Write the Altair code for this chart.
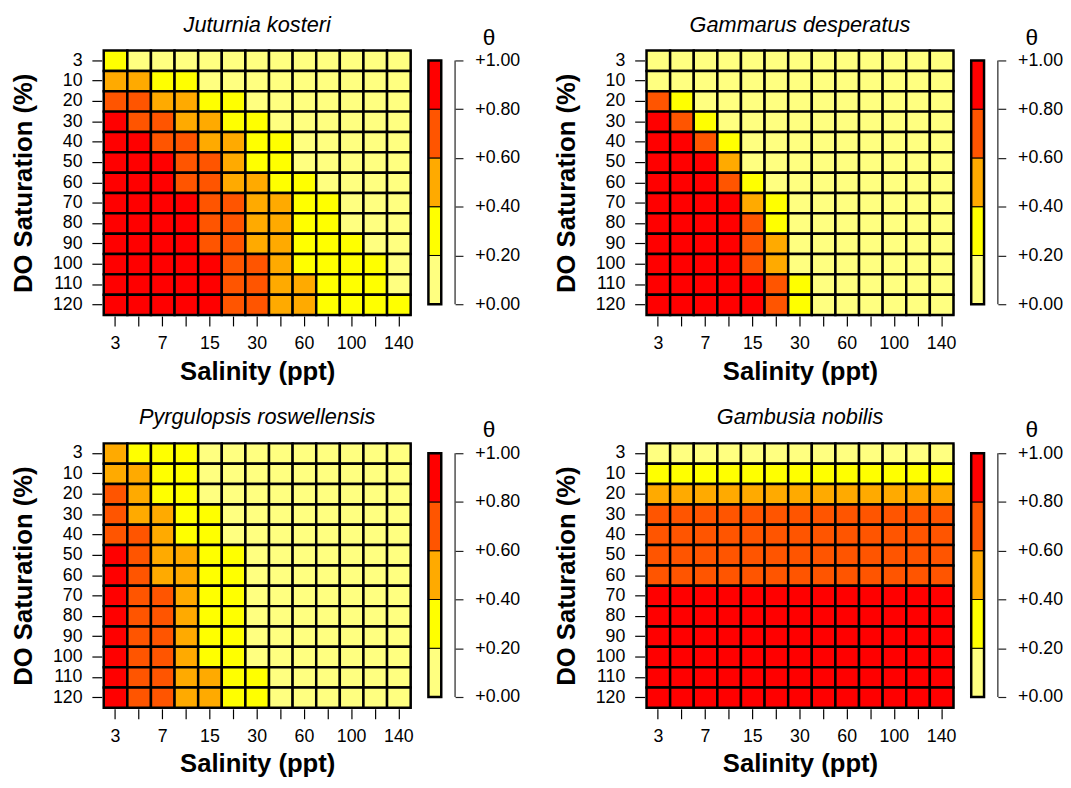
import json
import altair as alt
import pandas as pd

# ---- axes categories ----
salinity = ["3", "5", "7", "10", "15", "20", "30", "45", "60", "80", "100", "120", "140"]
do_sat = ["3", "10", "20", "30", "40", "50", "60", "70", "80", "90", "100", "110", "120"]
shown_salinity = ["3", "7", "15", "30", "60", "100", "140"]
cbar_ticks = [0.0, 0.2, 0.4, 0.6, 0.8, 1.0]

# theta class values (bin midpoints)
L, Y, A, O, R = 0.1, 0.3, 0.5, 0.7, 0.9

juturnia = [
    [Y, L, L, L, L, L, L, L, L, L, L, L, L],
    [A, A, Y, Y, L, L, L, L, L, L, L, L, L],
    [O, O, A, A, Y, Y, L, L, L, L, L, L, L],
    [R, O, O, A, A, Y, Y, L, L, L, L, L, L],
    [R, R, O, O, A, A, Y, Y, L, L, L, L, L],
    [R, R, R, O, O, A, Y, Y, L, L, L, L, L],
    [R, R, R, O, O, A, A, Y, Y, L, L, L, L],
    [R, R, R, R, O, O, A, A, Y, Y, L, L, L],
    [R, R, R, R, O, O, A, A, Y, Y, L, L, L],
    [R, R, R, R, O, O, A, A, Y, Y, Y, L, L],
    [R, R, R, R, R, O, O, A, Y, Y, Y, Y, L],
    [R, R, R, R, R, O, O, A, A, Y, Y, Y, L],
    [R, R, R, R, R, O, O, A, A, Y, Y, Y, Y],
]
gammarus = [
    [L, L, L, L, L, L, L, L, L, L, L, L, L],
    [L, L, L, L, L, L, L, L, L, L, L, L, L],
    [O, Y, L, L, L, L, L, L, L, L, L, L, L],
    [R, O, Y, L, L, L, L, L, L, L, L, L, L],
    [R, R, O, Y, L, L, L, L, L, L, L, L, L],
    [R, R, R, A, L, L, L, L, L, L, L, L, L],
    [R, R, R, O, Y, L, L, L, L, L, L, L, L],
    [R, R, R, R, A, Y, L, L, L, L, L, L, L],
    [R, R, R, R, O, Y, L, L, L, L, L, L, L],
    [R, R, R, R, O, A, L, L, L, L, L, L, L],
    [R, R, R, R, O, A, L, L, L, L, L, L, L],
    [R, R, R, R, R, O, Y, L, L, L, L, L, L],
    [R, R, R, R, R, O, Y, L, L, L, L, L, L],
]
pyrgulopsis = [
    [A, Y, Y, Y, L, L, L, L, L, L, L, L, L],
    [A, A, Y, Y, L, L, L, L, L, L, L, L, L],
    [O, A, Y, Y, L, L, L, L, L, L, L, L, L],
    [O, A, A, Y, Y, L, L, L, L, L, L, L, L],
    [O, O, A, Y, Y, L, L, L, L, L, L, L, L],
    [R, O, A, A, Y, Y, L, L, L, L, L, L, L],
    [R, O, A, A, Y, Y, L, L, L, L, L, L, L],
    [R, O, O, A, Y, Y, L, L, L, L, L, L, L],
    [R, O, O, A, Y, Y, L, L, L, L, L, L, L],
    [R, O, O, A, Y, Y, L, L, L, L, L, L, L],
    [R, O, O, A, Y, Y, L, L, L, L, L, L, L],
    [R, O, O, A, A, Y, Y, L, L, L, L, L, L],
    [R, O, O, A, A, Y, Y, L, L, L, L, L, L],
]
gambusia = [
    [L, L, L, L, L, L, L, L, L, L, L, L, L],
    [Y, Y, Y, Y, Y, Y, Y, Y, Y, Y, Y, Y, Y],
    [A, A, A, A, A, A, A, A, A, A, A, A, A],
    [O, O, O, O, O, O, O, O, O, O, O, O, O],
    [O, O, O, O, O, O, O, O, O, O, O, O, O],
    [O, O, O, O, O, O, O, O, O, O, O, O, O],
    [O, O, O, O, O, O, O, O, O, O, O, O, O],
    [R, R, R, R, R, R, R, R, R, R, R, R, R],
    [R, R, R, R, R, R, R, R, R, R, R, R, R],
    [R, R, R, R, R, R, R, R, R, R, R, R, R],
    [R, R, R, R, R, R, R, R, R, R, R, R, R],
    [R, R, R, R, R, R, R, R, R, R, R, R, R],
    [R, R, R, R, R, R, R, R, R, R, R, R, R],
]

bin_lo = [0.0, 0.2, 0.4, 0.6, 0.8]
bin_hi = [0.2, 0.4, 0.6, 0.8, 1.0]
bin_mid = [0.1, 0.3, 0.5, 0.7, 0.9]

heat_colors = ["#FFFF80", "#FFFF00", "#FFAA00", "#FF5500", "#FF0000"]
FONT = "Liberation Sans"

color_scale = alt.Scale(type="threshold", domain=[0.2, 0.4, 0.6, 0.8], range=heat_colors)

HW, HH = 311, 268   # heat map plot size
CW = 13             # colour bar width
LBL = 18


def to_long(mat):
    rows = []
    for i, d in enumerate(do_sat):
        for j, s in enumerate(salinity):
            rows.append({"DO": d, "Salinity": s, "theta": mat[i][j]})
    return pd.DataFrame(rows)


label_expr = "indexof(%s, datum.value) >= 0 ? datum.label : ''" % json.dumps(shown_salinity)


def heat(mat, name):
    return alt.Chart(
        to_long(mat),
        title=alt.TitleParams(name, fontStyle="italic", fontWeight="normal", fontSize=22,
                              font=FONT, offset=13, anchor="middle"),
    ).mark_rect(stroke="black", strokeWidth=2.5).encode(
        x=alt.X("Salinity:O", sort=salinity,
                axis=alt.Axis(title="Salinity (ppt)", labelExpr=label_expr, labelAngle=0,
                              domain=False, ticks=True, tickSize=10, tickColor="black",
                              tickWidth=1.2, offset=1, labelPadding=9, labelFontSize=LBL,
                              labelColor="black", labelFont=FONT, labelOverlap=False,
                              titleFont=FONT, titleFontSize=26, titleFontWeight="bold",
                              titleColor="black", titlePadding=6)),
        y=alt.Y("DO:O", sort=do_sat,
                axis=alt.Axis(title="DO Saturation (%)", domain=False, ticks=True,
                              tickSize=10, tickColor="black", tickWidth=1.2, offset=2,
                              labelPadding=10, labelFontSize=LBL, labelColor="black",
                              labelFont=FONT, labelOverlap=False, titleFont=FONT,
                              titleFontSize=26, titleFontWeight="bold", titleColor="black",
                              titlePadding=16)),
        color=alt.Color("theta:Q", scale=color_scale, legend=None),
    ).properties(width=HW, height=HH,
                 view=alt.ViewBackground(stroke="#555555", strokeWidth=1))


def cbar():
    df = pd.DataFrame({"lo": bin_lo, "hi": bin_hi, "theta": bin_mid})
    yscale = alt.Scale(domain=[-0.0444, 1.0403], nice=False, zero=False)
    bars = alt.Chart(df).mark_rect(stroke="black", strokeWidth=1).encode(
        x=alt.value(0), x2=alt.value(CW),
        y=alt.Y("lo:Q", scale=yscale,
                axis=alt.Axis(orient="right", values=cbar_ticks, format="+.2f", title=None,
                              domain=False, grid=False, ticks=True, tickSize=8,
                              tickColor="#222222", tickWidth=1.2, offset=14, labelPadding=12,
                              labelFontSize=LBL, labelColor="black", labelFont=FONT)),
        y2="hi:Q",
        color=alt.Color("theta:Q", scale=color_scale, legend=None),
    )
    frame = alt.Chart(pd.DataFrame({"lo": [bin_lo[0]], "hi": [bin_hi[-1]]})).mark_rect(
        fillOpacity=0, stroke="black", strokeWidth=2.5
    ).encode(x=alt.value(0), x2=alt.value(CW), y=alt.Y("lo:Q", scale=yscale), y2="hi:Q")
    axis_line = alt.Chart(pd.DataFrame({"lo": [bin_lo[0]], "hi": [bin_hi[-1]]})).mark_rule(
        color="#222222", strokeWidth=1.2
    ).encode(x=alt.value(CW + 14), y=alt.Y("lo:Q", scale=yscale), y2="hi:Q")
    return alt.layer(bars, frame, axis_line).properties(
        width=CW, height=HH,
        title=alt.TitleParams("θ", fontSize=23, fontWeight="normal", font=FONT,
                              anchor="middle", dx=55, offset=1),
        view=alt.ViewBackground(strokeWidth=0),
    )


def panel(mat, name):
    return alt.hconcat(heat(mat, name), cbar(), spacing=12)


row1 = alt.hconcat(panel(juturnia, "Juturnia kosteri"),
                   panel(gammarus, "Gammarus desperatus"), spacing=33)
row2 = alt.hconcat(panel(pyrgulopsis, "Pyrgulopsis roswellensis"),
                   panel(gambusia, "Gambusia nobilis"), spacing=33)

chart = alt.vconcat(row1, row2, spacing=21).properties(
    padding={"left": 2, "top": 0, "right": 0, "bottom": 0}
).configure(background="white")

chart.save("out.html", embed_options={"renderer": "svg", "actions": False})
